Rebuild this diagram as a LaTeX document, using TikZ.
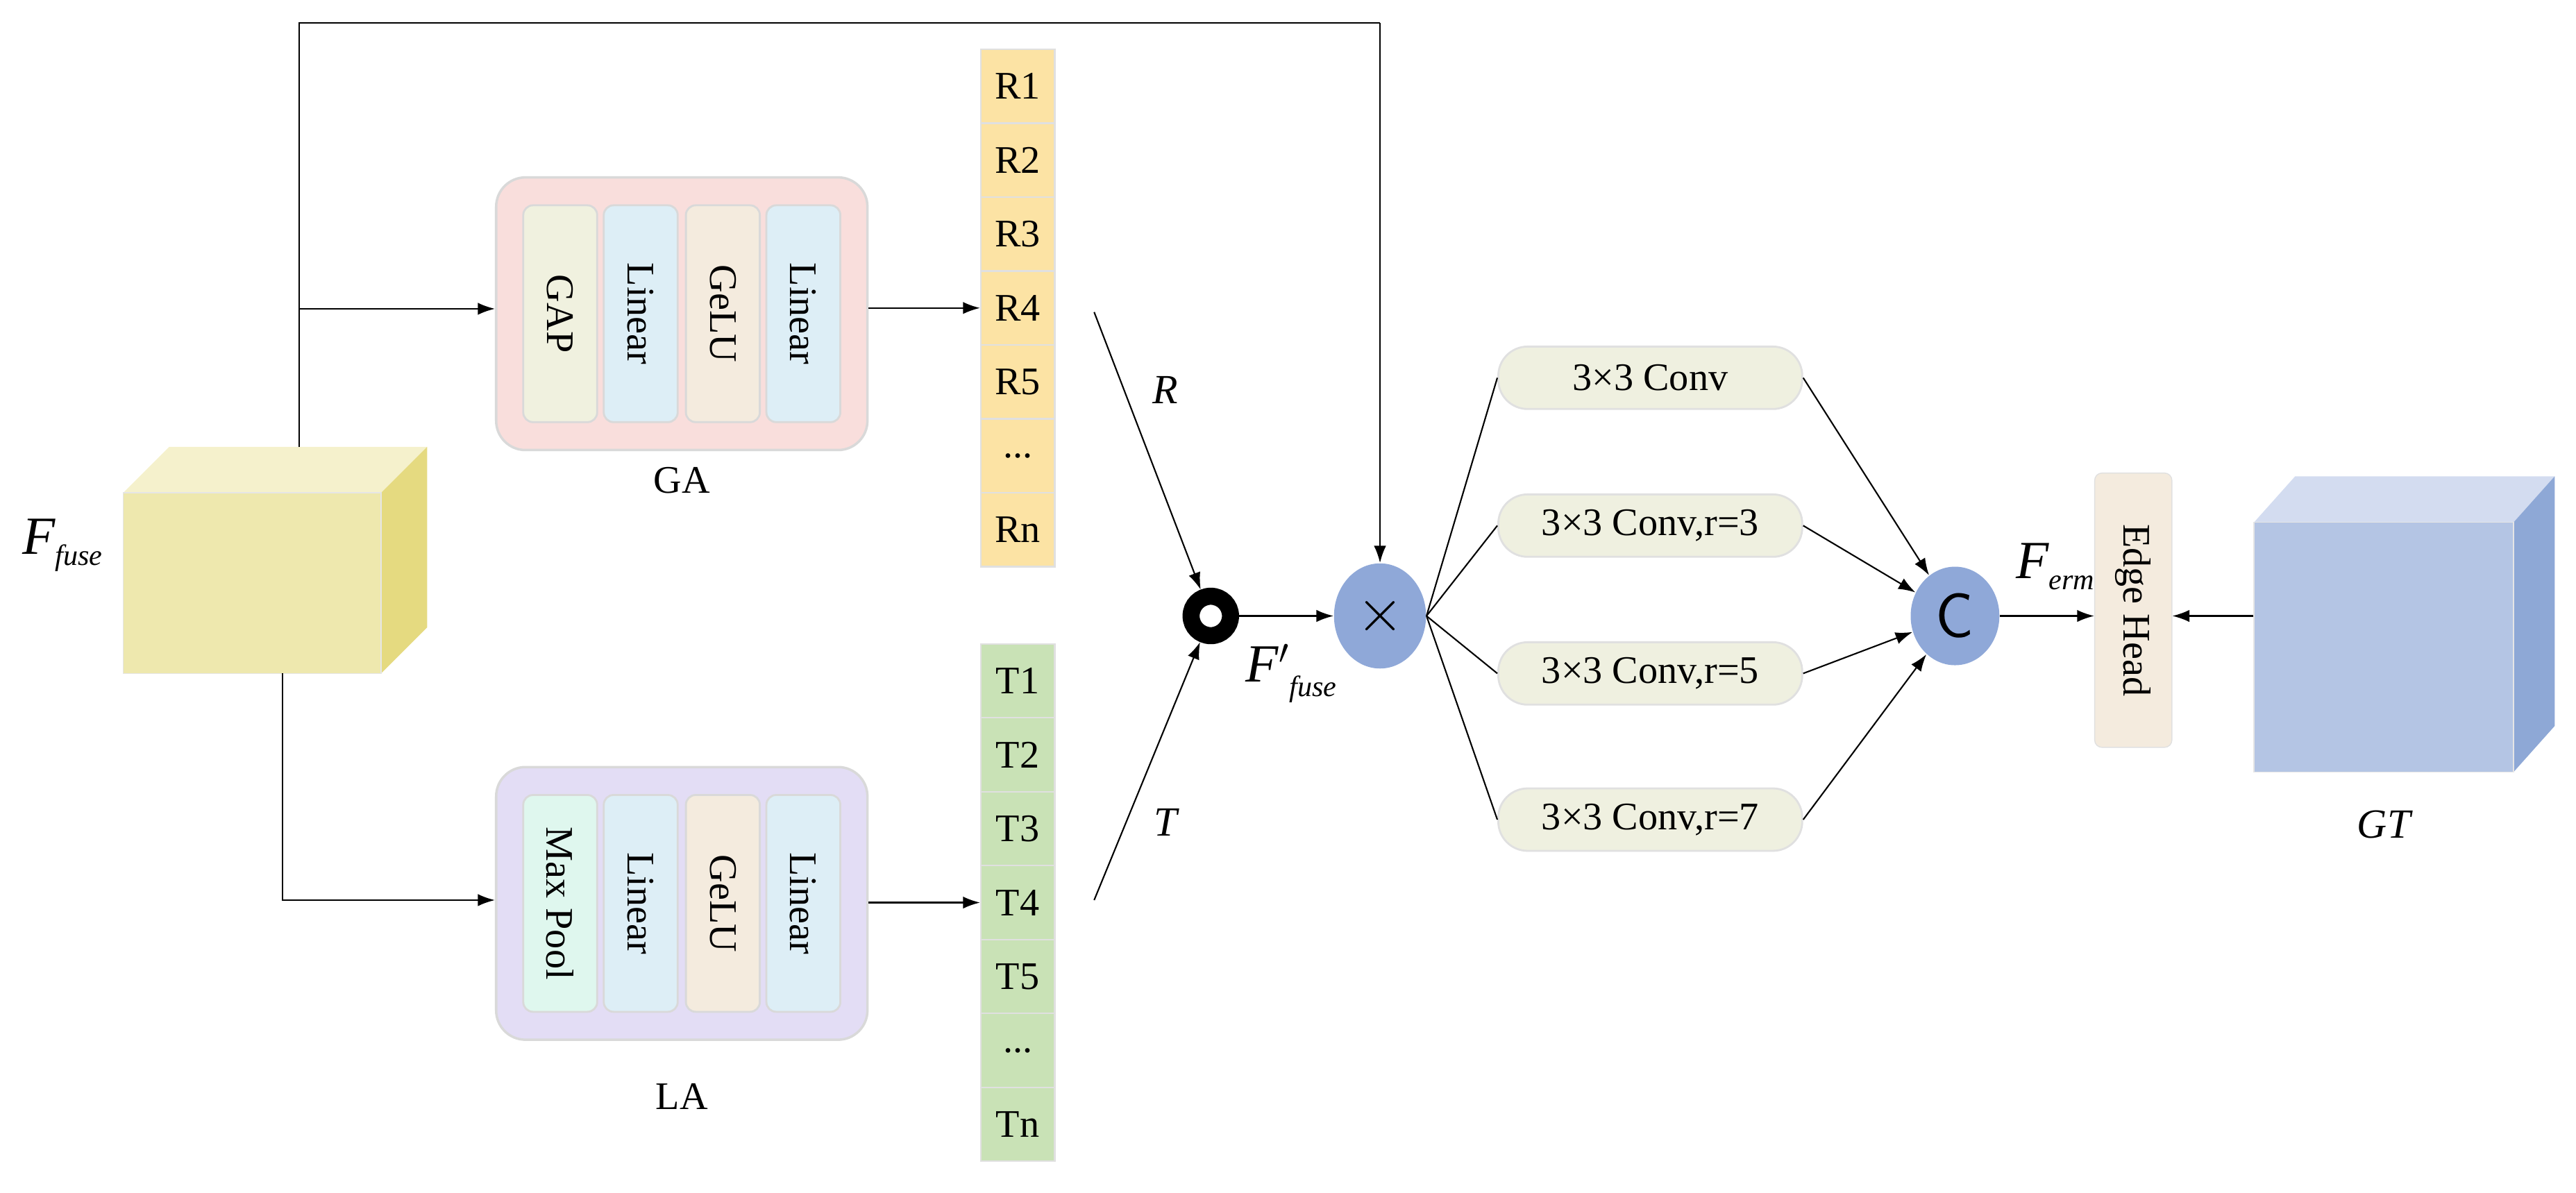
\documentclass[tikz,border=0pt]{standalone}
\usepackage{fontspec}
\setmainfont{Liberation Serif}
\usetikzlibrary{arrows.meta,positioning,shapes.geometric}
\newlength\un
\setlength\un{0.023667cm}
\definecolor{gabg}{HTML}{F9DEDC}
\definecolor{labg}{HTML}{E3DDF5}
\definecolor{gapc}{HTML}{F0F1DF}
\definecolor{linc}{HTML}{DDEEF6}
\definecolor{geluc}{HTML}{F4EBDE}
\definecolor{poolc}{HTML}{DFF7EE}
\definecolor{rc}{HTML}{FCE3A4}
\definecolor{tc}{HTML}{C9E2B6}
\definecolor{opc}{HTML}{8FA8D8}
\definecolor{convc}{HTML}{EFF0E0}
\tikzset{
  txt/.style={font=\fontsize{16}{18}\selectfont},
  block/.style={draw=black!15, line width=1pt, rounded corners=12pt, minimum width=226\un, minimum height=166\un},
  layer/.style={draw=black!15, line width=0.8pt, rounded corners=4pt, minimum width=132\un, minimum height=45\un, inner sep=0pt, rotate=-90, txt},
  cell/.style={draw=black!12, line width=0.6pt, minimum width=45\un, minimum height=45\un, inner sep=0pt, txt},
  op/.style={ellipse, fill=opc, minimum width=56\un, minimum height=64\un, inner sep=0pt},
  conv/.style={draw=black!12, line width=0.8pt, fill=convc, rounded corners=12pt, minimum width=185\un, minimum height=38\un, inner sep=0pt, txt},
  arr/.style={-{Latex[length=7pt,width=5pt]}, line width=0.6pt},
  ln/.style={line width=0.6pt},
}
\begin{document}
\begin{tikzpicture}[x=\un, y=-\un]
\useasboundingbox (0,0) rectangle (1568,726);
% F_fuse cube
\fill[fill={rgb,255:red,245;green,241;blue,204}] (75,300) -- (103,272) -- (260,272) -- (232,300) -- cycle;
\fill[fill={rgb,255:red,229;green,218;blue,128}] (232,300) -- (260,272) -- (260,382) -- (232,410) -- cycle;
\node[fill={rgb,255:red,238;green,232;blue,174}, draw=black!10, minimum width=157\un, minimum height=110\un, inner sep=0pt] (fuse) at (153.5,355) {};
\node[font=\fontsize{22}{24}\selectfont\itshape] (fuselbl) at (38,332) {F\raisebox{-0.45ex}{\fontsize{12}{13}\selectfont fuse}};
\coordinate (top) at (182,272);
\coordinate (bot) at (172,410);
% GA and LA blocks
\node[block, fill=gabg] (ga) at (415,191) {};
\node[block, fill=labg] (la) at (415,550) {};
\node[txt, below=3pt of ga] {GA};
\node[txt, below=14pt of la] {LA};
\foreach \b/\c/\t in {ga/gapc/GAP,la/poolc/Max Pool}{
  \node[layer, fill=\c] (\b1) at ([xshift=-74\un]\b.center) {\t};
  \node[layer, fill=linc] (\b2) at ([xshift=-25\un]\b.center) {Linear};
  \node[layer, fill=geluc] (\b3) at ([xshift=25\un]\b.center) {GeLU};
  \node[layer, fill=linc] (\b4) at ([xshift=74\un]\b.center) {Linear};
}
% R and T vectors
\foreach \i in {1,...,7}{
  \node[cell, fill=rc] (r\i) at (619.5,7.5+45*\i) {\ifnum\i=6 ...\else\ifnum\i=7 Rn\else R\i\fi\fi};
  \node[cell, fill=tc] (t\i) at (619.5,369.5+45*\i) {\ifnum\i=6 ...\else\ifnum\i=7 Tn\else T\i\fi\fi};
}
% combine
\node[circle, draw=black, line width=7pt, minimum size=24\un, inner sep=0pt] (ring) at (737,375) {};
\node[op] (mul) at (840,375) {\fontsize{26}{26}\selectfont$\times$};
\node[font=\fontsize{22}{24}\selectfont\itshape] at (786,410) {F$'$\raisebox{-0.6ex}{\fontsize{12}{13}\selectfont fuse}};
\coordinate (rs) at (666,190);
\coordinate (ts) at (666,548);
\draw[arr] (rs) -- (ring) node[pos=0.28, right=8pt, font=\fontsize{17}{18}\selectfont\itshape] {R};
\draw[arr] (ts) -- (ring) node[pos=0.3, right=8pt, font=\fontsize{17}{18}\selectfont\itshape] {T};
\draw[arr] (ring) -- (mul);
% connections
\draw[ln] (top) -- (182,14) -- (840,14);
\draw[arr] (840,14) -- (mul);
\draw[arr] (182,188) -- (ga.west |- 182,188);
\draw[arr] (bot) -- (172,548) -- (la.west |- 172,548);
\draw[arr] (ga.east |- r4) -- (r4.west);
\draw[arr] (la.east |- t4) -- (t4.west);
% convolutions
\node[conv] (c1) at (1004.5,230) {3×3 Conv};
\node[conv] (c2) at (1004.5,320) {3×3 Conv,r=3};
\node[conv] (c3) at (1004.5,410) {3×3 Conv,r=5};
\node[conv] (c4) at (1004.5,499) {3×3 Conv,r=7};
\node[op, minimum width=54\un, minimum height=60\un] (cat) at (1190,375) {\fontsize{26}{26}\selectfont\sffamily C};
\foreach \i in {1,...,4}{
  \draw[ln] (mul.east) -- (c\i.west);
  \draw[arr] (c\i.east) -- (cat);
}
% edge head
\node[draw=black!12, fill=geluc, rounded corners=3pt, minimum width=167\un, minimum height=47\un, inner sep=0pt, rotate=-90, txt] (edge) at (1298.5,371.5) {Edge Head};
\draw[arr] (cat) -- (cat -| edge.south);
\node[font=\fontsize{22}{24}\selectfont\itshape] at (1251,345) {F\raisebox{-0.45ex}{\fontsize{12}{13}\selectfont erm}};
% GT cube
\fill[fill={rgb,255:red,211;green,220;blue,240}] (1372,318) -- (1397,290) -- (1555,290) -- (1530,318) -- cycle;
\fill[fill={rgb,255:red,142;green,168;blue,214}] (1530,318) -- (1555,290) -- (1555,442) -- (1530,470) -- cycle;
\node[fill={rgb,255:red,180;green,197;blue,228}, draw=black!10, minimum width=158\un, minimum height=152\un, inner sep=0pt] (gt) at (1451,394) {};
\node[font=\fontsize{17}{18}\selectfont\itshape, below=12pt of gt] {GT};
\draw[arr] (gt.west |- cat) -- (edge.north |- cat);
\end{tikzpicture}
\end{document}
